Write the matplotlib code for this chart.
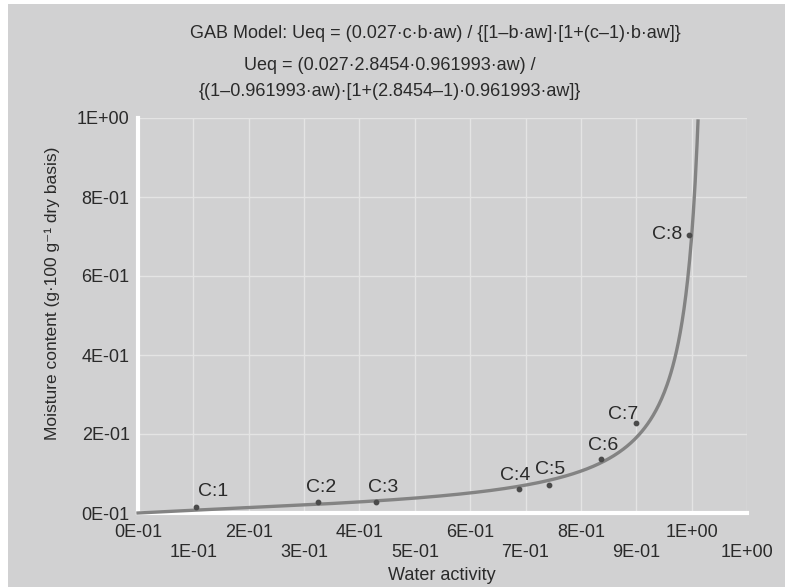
import numpy as np
import matplotlib
matplotlib.use('Agg')
import matplotlib.pyplot as plt
from matplotlib.patches import Rectangle

plt.rcParams['font.family'] = ['Liberation Sans', 'DejaVu Sans']

# GAB model parameters (read from the title)
M0 = 0.027
C_GAB = 2.8454
B_GAB = 0.961993

# measured points
point_names = ['C:1', 'C:2', 'C:3', 'C:4', 'C:5', 'C:6', 'C:7', 'C:8']
aw_points = [0.105, 0.326, 0.429, 0.688, 0.743, 0.837, 0.900, 0.995]
ueq_points = [0.016, 0.027, 0.027, 0.060, 0.071, 0.137, 0.227, 0.704]

x_ticks = [0.0, 0.1, 0.2, 0.3, 0.4, 0.5, 0.6, 0.7, 0.8, 0.9, 1.0, 1.1]
x_tick_labels = ['0E-01', '1E-01', '2E-01', '3E-01', '4E-01', '5E-01',
                 '6E-01', '7E-01', '8E-01', '9E-01', '1E+00', '1E+00']
y_ticks = [0.0, 0.2, 0.4, 0.6, 0.8, 1.0]
y_tick_labels = ['0E-01', '2E-01', '4E-01', '6E-01', '8E-01', '1E+00']

# label offsets in pixels (dx, dy) relative to each point
label_offsets = [(17, 15), (3, 15), (8, 15), (-4, 14), (1, 15), (2, 13), (-13, 9), (-22, 0)]

BG = '#d1d1d2'
TXT = '#2a2a2a'


def gab(aw):
    baw = B_GAB * aw
    return (M0 * C_GAB * baw) / ((1 - baw) * (1 + (C_GAB - 1) * baw))


fig = plt.figure(figsize=(7.85, 5.87), dpi=100)
fig.patch.set_facecolor('white')
fig.patches.append(Rectangle((8 / 785, 0), 1, 1 - 4 / 587, transform=fig.transFigure,
                             facecolor=BG, edgecolor='none', zorder=-10))

ax = fig.add_axes([138 / 785, 1 - 513 / 587, (747 - 138) / 785, (513 - 118) / 587])
ax.set_facecolor(BG)

aw = np.linspace(0, 1.0115, 600)
ax.plot(aw, gab(aw), color='#838383', lw=2.4, zorder=3, clip_on=False)
ax.scatter(aw_points, ueq_points, s=10, color='#4a4a4a', zorder=4)

for name, xx, yy, (dx, dy) in zip(point_names, aw_points, ueq_points, label_offsets):
    ax.annotate(name, (xx, yy), xytext=(dx / 1.389, dy / 1.389), textcoords='offset points',
                ha='center', va='center', fontsize=14, color=TXT, zorder=5)

ax.set_xlim(0, 1.1)
ax.set_ylim(0, 1)

# staggered x tick labels: even ones high, odd ones low
ax.set_xticks(x_ticks[0::2])
ax.set_xticklabels(x_tick_labels[0::2])
ax.set_xticks(x_ticks[1::2], minor=True)
ax.set_xticklabels(x_tick_labels[1::2], minor=True)
ax.tick_params(axis='x', which='major', length=0, pad=8, labelsize=13, labelcolor=TXT)
ax.tick_params(axis='x', which='minor', length=0, pad=22, labelsize=13, labelcolor=TXT)
ax.set_yticks(y_ticks)
ax.set_yticklabels(y_tick_labels)
ax.tick_params(axis='y', length=0, pad=6, labelsize=13, labelcolor=TXT)

ax.grid(True, which='both', color='#e4e4e4', lw=1.0, zorder=0)
ax.set_axisbelow(True)

for side in ['top', 'right']:
    ax.spines[side].set_visible(False)
for side in ['left', 'bottom']:
    ax.spines[side].set_color('white')
    ax.spines[side].set_linewidth(3)

fig.text(52 / 785, 1 - 293 / 587, 'Moisture content (g·100 g⁻¹ dry basis)',
         rotation=90, ha='center', va='center', fontsize=12.5, color=TXT)
fig.text(442 / 785, 1 - 575 / 587, 'Water activity',
         ha='center', va='center', fontsize=13, color=TXT)

fig.text(435 / 785, 1 - 33 / 587,
         'GAB Model: Ueq = (0.027·c·b·aw) / {[1–b·aw]·[1+(c–1)·b·aw]}',
         ha='center', va='center', fontsize=13, color=TXT)
fig.text(390 / 785, 1 - 66 / 587, 'Ueq = (0.027·2.8454·0.961993·aw) /',
         ha='center', va='center', fontsize=13, color=TXT)
fig.text(390 / 785, 1 - 92 / 587, '{(1–0.961993·aw)·[1+(2.8454–1)·0.961993·aw]}',
         ha='center', va='center', fontsize=13, color=TXT)

fig.savefig('out.png', dpi=100, facecolor=fig.get_facecolor())
